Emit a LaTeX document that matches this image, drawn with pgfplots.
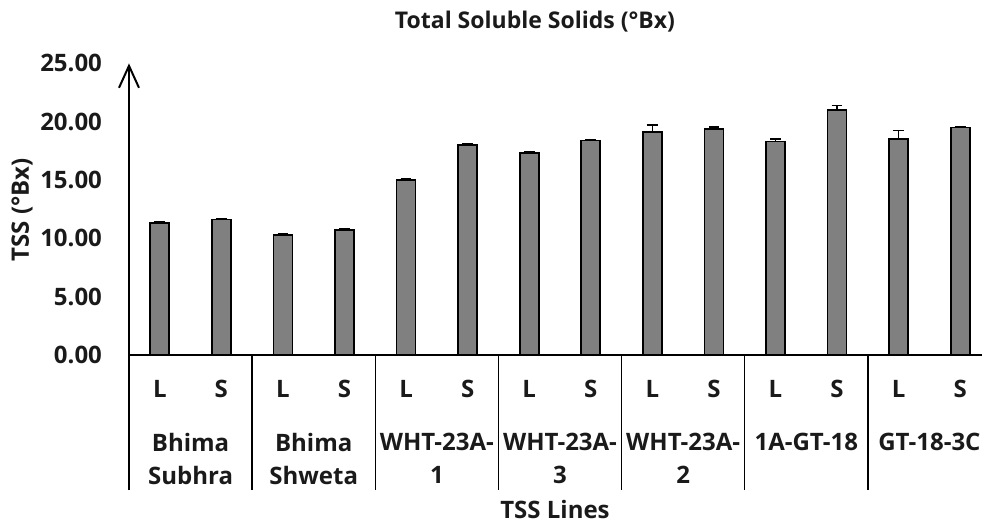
\documentclass[border=0pt]{standalone}
\usepackage{fontspec}
\setmainfont{Open Sans}
\usepackage{pgfplots}
\usepackage{pgfplotstable}
\pgfplotsset{compat=1.18}
\usetikzlibrary{arrows.meta}

\definecolor{barfill}{HTML}{808080}
\definecolor{inktext}{HTML}{1A1A1A}

% TSS per line: L and S samples, mean and upper error
\pgfplotstableread{
pos  tss   err
0    11.30 0.10
1    11.60 0.10
2    10.30 0.08
3    10.70 0.10
4    15.00 0.12
5    18.00 0.10
6    17.30 0.08
7    18.40 0.05
8    19.10 0.60
9    19.40 0.15
10   18.30 0.20
11   21.00 0.40
12   18.50 0.75
13   19.50 0.10
}\tssdata

\begin{document}
\begin{tikzpicture}[x=1pt,y=1pt,font=\bfseries\fontsize{12}{15}\selectfont,text=inktext]
\useasboundingbox (0pt,0pt) rectangle (491pt,262.5pt);
\begin{axis}[
  at={(64.5pt,85pt)}, anchor=south west,
  scale only axis, width=431pt, height=145.8pt,
  xmin=-0.5, xmax=13.5, ymin=0, ymax=25,
  axis x line=bottom, axis y line=left,
  x axis line style={-, line width=1pt, black},
  y axis line style={-{Straight Barb[length=11pt,width=10pt,line width=1pt]}, line width=1pt, black},
  ytick={0,5,10,15,20,25},
  /pgf/number format/fixed,
  /pgf/number format/fixed zerofill,
  /pgf/number format/precision=2,
  /pgf/number format/assume math mode=true,
  yticklabel style={xshift=-10pt, font=\bfseries\fontsize{12}{15}\selectfont},
  xtick={0,...,13},
  xticklabels={L,S,L,S,L,S,L,S,L,S,L,S,L,S},
  xticklabel style={yshift=-9pt},
  minor xtick={-0.5,1.5,3.5,5.5,7.5,9.5,11.5,13.5},
  major tick length=0pt,
  minor tick length=67.5pt,
  tick align=outside,
  minor x tick style={black, line width=0.7pt},
  extra x ticks={0.5,2.5,4.5,6.5,8.5,10.5,12.5},
  extra x tick labels={{Bhima\\Subhra},{Bhima\\Shweta},{WHT-23A-\\1},{WHT-23A-\\3},{WHT-23A-\\2},{1A-GT-18},{GT-18-3C}},
  extra x tick style={major tick length=0pt, xticklabel style={align=center, anchor=north, yshift=-26.5pt, font=\bfseries\fontsize{12}{16.5}\selectfont}},
  clip=false,
]
\addplot[ybar, bar width=9.5pt, fill=barfill, draw=black, line width=0.8pt,
  error bars/.cd, y dir=plus, y explicit,
  error bar style={line width=0.8pt, black},
  error mark options={rotate=90, mark size=2.7pt, line width=0.8pt, black}]
  table[x=pos, y=tss, y error=err] {\tssdata};
\end{axis}
\node[font=\bfseries\fontsize{11.5}{14}\selectfont] at (267.5pt,251.5pt) {Total Soluble Solids (°Bx)};
\node[rotate=90] at (11pt,157.5pt) {TSS (°Bx)};
\node at (277.5pt,7.5pt) {TSS Lines};
\end{tikzpicture}
\end{document}
